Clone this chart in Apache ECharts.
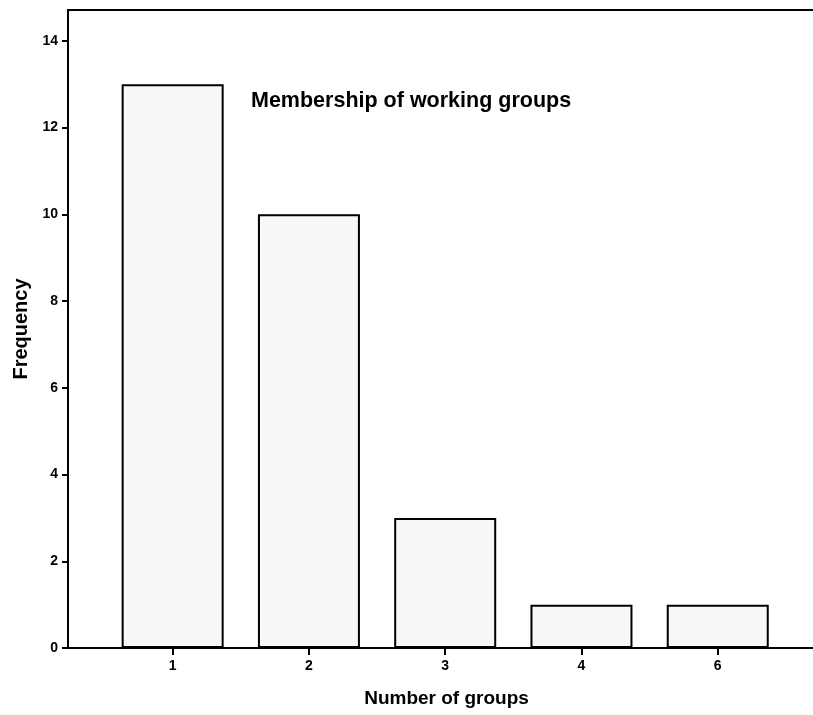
<!DOCTYPE html>
<html><head><meta charset="utf-8">
<script src="https://cdn.jsdelivr.net/npm/echarts@6/dist/echarts.min.js"></script>
<style>html,body{margin:0;padding:0;background:#fff}#c{width:813px;height:715px}</style>
</head><body><div id="c"></div>
<script>
const categories = ['1', '2', '3', '4', '6'];
const frequencies = [13, 10, 3, 1, 1];
const yTicks = [0, 2, 4, 6, 8, 10, 12, 14];
const titleText = 'Membership of working groups';
const xName = 'Number of groups';
const yName = 'Frequency';

const positions = categories.map((c, i) => i);
const font = 'Liberation Sans, Arial, sans-serif';
const chart = echarts.init(document.getElementById('c'));
chart.setOption({
  animation: false,
  backgroundColor: '#fff',
  grid: { left: 68, right: 0, top: 10, bottom: 67, outerBoundsMode: 'none', containLabel: false },
  xAxis: [{
    type: 'value', min: -0.768, max: 4.699,
    position: 'bottom',
    axisLine: { show: true, onZero: false, lineStyle: { color: '#000', width: 2 } },
    axisTick: { show: true, customValues: positions, length: 7, lineStyle: { color: '#000', width: 2 } },
    axisLabel: { customValues: positions, formatter: v => categories[Math.round(v)], color: '#000', fontWeight: 'bold', fontSize: 14, fontFamily: font, margin: 11 },
    splitLine: { show: false },
    name: xName, nameLocation: 'middle', nameGap: 41,
    nameTextStyle: { color: '#000', fontWeight: 'bold', fontSize: 19, fontFamily: font, padding: [0, 0, 0, 12] }
  }, {
    type: 'value', min: -0.768, max: 4.699, position: 'top',
    axisLine: { show: true, onZero: false, lineStyle: { color: '#000', width: 2 } },
    axisTick: { show: false }, axisLabel: { show: false }, splitLine: { show: false }
  }],
  yAxis: {
    type: 'value', min: 0, max: 14.71, position: 'left',
    axisLine: { show: true, onZero: false, lineStyle: { color: '#000', width: 2 } },
    axisTick: { show: true, customValues: yTicks, length: 6, lineStyle: { color: '#000', width: 2 } },
    axisLabel: { customValues: yTicks, color: '#000', fontWeight: 'bold', fontSize: 14, fontFamily: font, margin: 10 },
    splitLine: { show: false },
    name: yName, nameLocation: 'middle', nameGap: 36, nameRotate: 90,
    nameTextStyle: { color: '#000', fontWeight: 'bold', fontSize: 20, fontFamily: font }
  },
  title: {
    text: titleText, left: 246, top: 85,
    textStyle: { color: '#000', fontWeight: 'bold', fontSize: 21.5, fontFamily: font }
  },
  series: [{
    type: 'bar', xAxisIndex: 0,
    barWidth: 102,
    z: 1,
    data: positions.map((p, i) => [p, frequencies[i]]),
    itemStyle: { color: '#f8f8f8', borderColor: '#000', borderWidth: 2 }
  }]
});
</script></body></html>
